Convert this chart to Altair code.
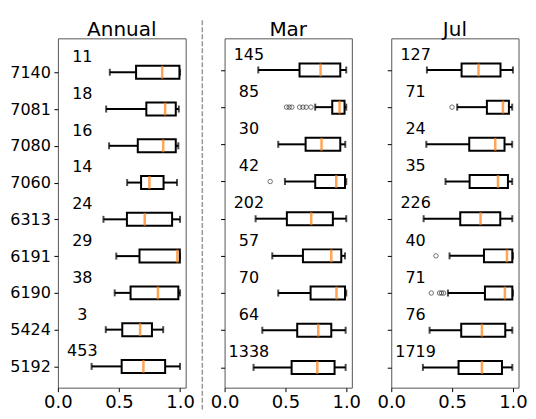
import altair as alt
import pandas as pd

categories = ['7140', '7081', '7080', '7060', '6313', '6191', '6190', '5424', '5192']

annual_n = [11, 18, 16, 14, 24, 29, 38, 3, 453]
annual_wlo = [0.425, 0.395, 0.419, 0.567, 0.373, 0.478, 0.465, 0.392, 0.276]
annual_q1 = [0.640, 0.724, 0.654, 0.681, 0.565, 0.668, 0.595, 0.527, 0.522]
annual_med = [0.854, 0.878, 0.862, 0.749, 0.711, 0.978, 0.819, 0.673, 0.700]
annual_q3 = [0.995, 0.965, 0.965, 0.865, 0.935, 0.998, 0.986, 0.770, 0.878]
annual_whi = [1.0, 0.990, 0.986, 0.975, 1.0, 1.0, 1.0, 0.862, 1.0]
annual_out = [[], [], [], [], [], [], [], [], []]

mar_n = [145, 85, 30, 42, 202, 57, 70, 64, 1338]
mar_wlo = [0.277, 0.745, 0.441, 0.496, 0.255, 0.392, 0.441, 0.310, 0.238]
mar_q1 = [0.616, 0.885, 0.666, 0.745, 0.512, 0.644, 0.707, 0.597, 0.551]
mar_med = [0.789, 0.945, 0.797, 0.918, 0.712, 0.877, 0.920, 0.770, 0.762]
mar_q3 = [0.951, 0.986, 0.951, 0.990, 0.890, 0.959, 0.990, 0.877, 0.904]
mar_whi = [1.0, 1.0, 0.992, 1.0, 1.0, 0.990, 1.0, 0.995, 0.995]
mar_out = [[], [0.509, 0.531, 0.553, 0.617, 0.644, 0.671, 0.710], [], [0.375],
           [], [], [], [], []]

jul_n = [127, 71, 24, 35, 226, 40, 71, 76, 1719]
jul_wlo = [0.293, 0.542, 0.288, 0.446, 0.266, 0.479, 0.466, 0.315, 0.260]
jul_q1 = [0.578, 0.786, 0.641, 0.644, 0.567, 0.762, 0.770, 0.575, 0.553]
jul_med = [0.717, 0.918, 0.855, 0.877, 0.734, 0.951, 0.934, 0.745, 0.745]
jul_q3 = [0.898, 0.967, 0.931, 0.959, 0.896, 0.995, 0.995, 0.937, 0.910]
jul_whi = [1.0, 0.994, 0.994, 0.994, 0.995, 1.0, 1.0, 0.995, 0.995]
jul_out = [[], [0.499], [], [], [], [0.367], [0.329, 0.397, 0.413, 0.430], [], []]

FONT = 'DejaVu Sans'
label_expr = "[" + ",".join("'%s'" % c for c in categories) + "][datum.value]"
H = 350


def panel(name, n, wlo, q1, med, q3, whi, out, width, ydom, show_labels, divider=False):
    df = pd.DataFrame({
        'cat': categories, 'pos': list(range(len(categories))), 'n': n,
        'wlo': wlo, 'q1': q1, 'med': med, 'q3': q3, 'whi': whi,
    })
    df['tpos'] = df['pos'] - 0.41
    xs = alt.Scale(domain=[0, 1.046], nice=False, zero=False, padding=0)
    ys = alt.Scale(domain=ydom, reverse=True, nice=False, zero=False, padding=0)
    xa = alt.Axis(values=[0, 0.5, 1.0], format='.1f', labelFontSize=18, tickSize=4,
                  labelPadding=1.5, domain=False, grid=False, title=None, labelFlush=False,
                  tickColor='black', labelColor='black', labelFont=FONT, labelOverlap=False)
    ya = alt.Axis(values=list(range(len(categories))), labelExpr=label_expr, tickSize=4,
                  labelFontSize=16, labelPadding=3.5, domain=False, grid=False, title=None,
                  labels=show_labels, tickColor='black', labelColor='black', labelFont=FONT)
    Y = lambda f: alt.Y(f, scale=ys, axis=ya)
    X = lambda f: alt.X(f, scale=xs, axis=xa)
    base = alt.Chart(df)
    layers = [
        base.mark_rule(color='black', strokeWidth=2).encode(x=X('wlo:Q'), x2='q1:Q', y=Y('pos:Q')),
        base.mark_rule(color='black', strokeWidth=2).encode(x=X('q3:Q'), x2='whi:Q', y=Y('pos:Q')),
        base.mark_tick(orient='vertical', color='black', size=7, thickness=2).encode(x=X('wlo:Q'), y=Y('pos:Q')),
        base.mark_tick(orient='vertical', color='black', size=7, thickness=2).encode(x=X('whi:Q'), y=Y('pos:Q')),
        base.mark_bar(filled=False, color='black', strokeWidth=2, height=13).encode(
            x=X('q1:Q'), x2='q3:Q', y=Y('pos:Q')),
        base.mark_tick(orient='vertical', color='#ff7f0e', size=13, thickness=2.5).encode(
            x=X('med:Q'), y=Y('pos:Q')),
        base.mark_text(fontSize=16, font=FONT, align='center', baseline='middle', color='black').encode(
            x=alt.X(datum=0.2, scale=xs, axis=xa), y=Y('tpos:Q'), text='n:N'),
    ]
    orows = [{'pos': i, 'v': v} for i, vs in enumerate(out) for v in vs]
    if orows:
        layers.append(alt.Chart(pd.DataFrame(orows)).mark_point(
            shape='circle', filled=False, size=20, color='#222', strokeWidth=0.9).encode(
            x=X('v:Q'), y=Y('pos:Q')))
    layers.append(alt.Chart(pd.DataFrame({'t': [name]})).mark_text(
        fontSize=20, font=FONT, align='center', baseline='alphabetic', color='black').encode(
        text='t:N', x=alt.value(width / 2), y=alt.value(-2)))
    if divider:
        layers.append(alt.Chart(pd.DataFrame({'t': [0]})).mark_rule(
            color='#999999', strokeWidth=1.5, strokeDash=[5, 2]).encode(
            x=alt.value(-22.3), y=alt.value(-18), y2=alt.value(H + 23)))
    return alt.layer(*layers).properties(width=width, height=H)


a = panel('Annual', annual_n, annual_wlo, annual_q1, annual_med, annual_q3, annual_whi,
          annual_out, 128, [-0.923, 8.578], True)
m = panel('Mar', mar_n, mar_wlo, mar_q1, mar_med, mar_q3, mar_whi, mar_out, 127.5,
          [-0.851, 8.545], False, divider=True)
j = panel('Jul', jul_n, jul_wlo, jul_q1, jul_med, jul_q3, jul_whi, jul_out, 127.5,
          [-0.851, 8.545], False)

chart = alt.hconcat(a, m, j, spacing=39, bounds='flush').properties(
    padding={'left': 1, 'top': 10, 'right': 0, 'bottom': 0}
).configure(font=FONT).configure_view(stroke='#555555', strokeWidth=1)

chart.save("out.html", embed_options={"renderer": "svg", "actions": False})
